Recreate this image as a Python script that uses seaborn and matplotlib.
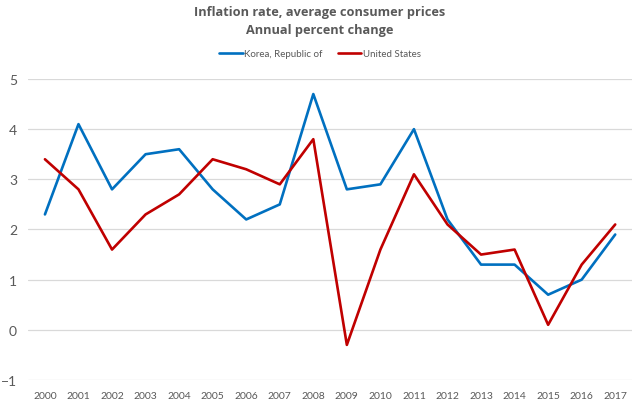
import numpy as np
import pandas as pd
import seaborn as sns
import matplotlib.pyplot as plt

### Data ###
years = [str(y) for y in range(2000, 2018)]
korea = [2.3, 4.1, 2.8, 3.5, 3.6, 2.8, 2.2, 2.5, 4.7, 2.8, 2.9, 4.0, 2.2, 1.3, 1.3, 0.7, 1.0, 1.9]
usa = [3.4, 2.8, 1.6, 2.3, 2.7, 3.4, 3.2, 2.9, 3.8, -0.3, 1.6, 3.1, 2.1, 1.5, 1.6, 0.1, 1.3, 2.1]
series_names = ["Korea, Republic of", "United States"]

df = pd.DataFrame({"Year": years * 2,
                   "Value": korea + usa,
                   "Country": [series_names[0]] * len(years) + [series_names[1]] * len(years)})

### Style ###
sns.set_theme(style="white")
plt.rcParams['font.family'] = ['Lato', 'DejaVu Sans']
grey = "#595959"

fig = plt.figure(figsize=(6.4, 4.06), dpi=100)
ax = fig.add_axes([0.044, 0.0616, 0.9435, 0.7414])

sns.lineplot(data=df, x="Year", y="Value", hue="Country",
             palette=["#0070C0", "#C00000"], linewidth=1.9, ax=ax, sort=False)

ax.set_xlim(-0.5, len(years) - 0.5)
ax.set_ylim(-1, 5)
ax.set_yticks(range(-1, 6))
ax.yaxis.grid(True, color="#D9D9D9", linewidth=0.9)
ax.xaxis.grid(False)
for s in ax.spines.values():
    s.set_visible(False)
ax.set_xlabel("")
ax.set_ylabel("")
ax.tick_params(axis="x", labelsize=7.5, colors=grey, length=0, pad=8)
ax.tick_params(axis="y", labelsize=10, colors=grey, length=0, pad=8)

title_font = ['Open Sans', 'DejaVu Sans']
fig.text(0.5, 0.97, "Inflation rate, average consumer prices", ha="center", va="center",
         fontsize=9.2, fontweight="bold", color=grey, family=title_font)
fig.text(0.5, 0.925, "Annual percent change", ha="center", va="center",
         fontsize=9.2, fontweight="bold", color=grey, family=title_font)

ax.legend(loc="center", bbox_to_anchor=(0.5, 0.865), bbox_transform=fig.transFigure,
          ncol=2, frameon=False, fontsize=7, labelcolor=grey, handlelength=2.4,
          handletextpad=0.15, columnspacing=1.6)

fig.savefig("out.png", dpi=100)
